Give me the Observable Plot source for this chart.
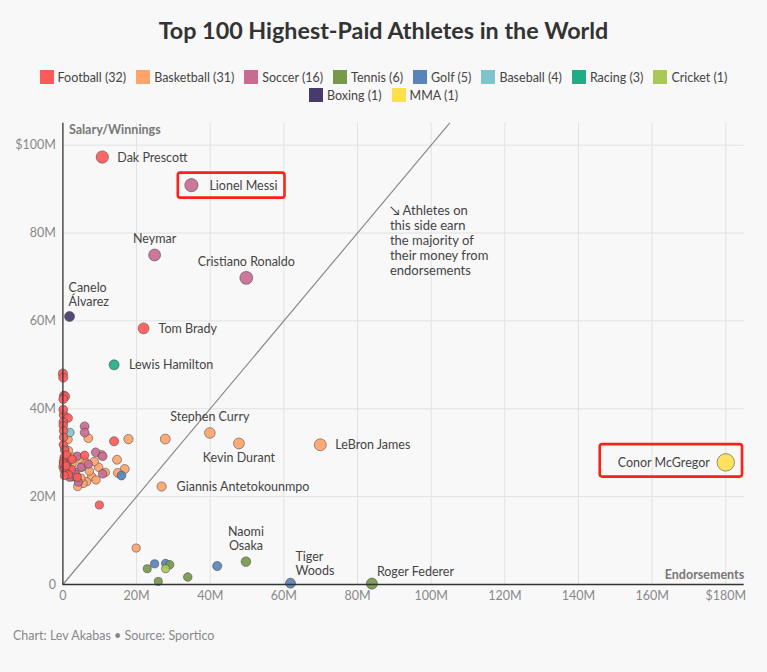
<!DOCTYPE html>
<html>
<head>
<meta charset="utf-8">
<script src="https://cdn.jsdelivr.net/npm/d3@7"></script>
<script src="https://cdn.jsdelivr.net/npm/@observablehq/plot@0.6"></script>
<style>
  html, body { margin: 0; padding: 0; background: #f8f8f8; }
  body { width: 767px; height: 672px; position: relative; font-family: Lato, "Open Sans", sans-serif; overflow: hidden; }
  #title { position: absolute; top: 16px; left: 0; width: 767px; text-align: center; font-size: 23.3px; font-weight: 700; line-height: 28px; color: #333; }
  #legend { position: absolute; top: 68px; left: 0; width: 767px; }
  .lrow { display: flex; justify-content: center; height: 18px; align-items: center; }
  .litem { display: flex; align-items: center; margin: 0 5px; font-size: 12.5px; color: #444; white-space: nowrap; }
  .sw { width: 14px; height: 14px; margin-right: 4px; }
  #chart { position: absolute; top: 108px; left: 0; }
  #caption { position: absolute; top: 627px; left: 13px; font-size: 12.5px; line-height: 18px; color: #888; }
</style>
</head>
<body>
<div id="title">Top 100 Highest-Paid Athletes in the World</div>
<div id="legend"></div>
<div id="chart"></div>
<div id="caption">Chart: Lev Akabas • Source: Sportico</div>
<script>
// ---- categories and colours ----
const sports = ["Football","Basketball","Soccer","Tennis","Golf","Baseball","Racing","Cricket","Boxing","MMA"];
const sportColors = ["#ff5a5a","#ffa46b","#c86b93","#76994a","#5884ba","#7fc4cb","#22ac86","#a9c858","#463b6c","#fee04f"];

// ---- values: [endorsements $M, salary/winnings $M, label] ----
const football = [
  [10.7,97.3,"Dak Prescott"],[21.9,58.3,"Tom Brady"],[13.9,32.6],[9.9,18.1],[5.9,29.4],[3.9,24.4],[2.3,26.2],
  [0.0,48.0],[0.1,47.1],[0.3,43.0],[0.6,42.8],[0.1,42.2],[0.2,38.6],[1.4,37.9],[0.1,37.0],[0.1,36.2],[0.2,35.0],
  [0.1,31.8],[0.3,28.9],[0.1,28.0],[0.0,26.8],[0.3,26.1],[0.2,33.5],[0.5,30.5],[1.0,29.5],[0.2,27.5],[0.7,25.5],
  [1.5,25.0],[0.4,24.8],[2.5,28.5],[0.1,39.8],[0.8,27.0]
];
const basketball = [
  [39.9,34.5,"Stephen Curry"],[27.8,33.1],[47.8,32.1,"Kevin Durant"],[69.9,31.8,"LeBron James"],
  [26.8,22.3,"Giannis Antetokounmpo"],[19.9,8.3],[1.4,33.0],[6.9,33.3],[17.8,33.1],[14.7,28.4],[16.8,26.3],
  [14.9,25.4],[9.7,26.7],[8.5,28.0],[7.8,24.6],[6.5,23.4],[5.5,23.0],[4.0,22.3],[2.5,27.4],[5.2,26.7],[4.9,24.2],
  [3.5,25.5],[1.5,30.5],[3.0,29.0],[6.0,28.0],[10.5,29.5],[11.5,25.5],[2.2,24.5],[4.5,28.5],[9.0,23.8],[7.2,25.8]
];
const soccer = [
  [34.9,90.9,"Lionel Messi"],[24.9,75.0,"Neymar"],[49.8,69.8,"Cristiano Ronaldo"],[5.9,36.0],[5.9,34.6],
  [3.9,29.2],[8.9,30.1],[10.8,29.2],[6.9,27.4],[4.9,26.7],[10.8,25.2],[2.4,25.8],[1.8,24.4],[4.2,23.3],[3.3,25.1],[1.0,28.0]
];
const tennis = [[49.7,5.2,"Naomi\nOsaka"],[83.9,0.2,"Roger Federer"],[22.9,3.6],[29.0,4.5],[25.9,0.7],[33.9,1.7]];
const golf = [[61.8,0.3,"Tiger\nWoods"],[24.9,4.7],[27.9,4.8],[41.9,4.2],[15.9,24.8]];
const baseball = [[1.9,34.6],[0.5,31.0],[1.0,29.0],[0.8,26.0]];
const racing = [[13.9,50.0,"Lewis Hamilton"],[1.2,27.0],[3.0,24.5]];
const cricket = [[27.9,3.6]];
const boxing = [[1.8,61.0,"Canelo\nÁlvarez"]];
const mma = [[180,27.8,"Conor McGregor"]];

// ---- tick labels ----
const xTicks = [0,20,40,60,80,100,120,140,160,180];
const xTickLabels = ["0","20M","40M","60M","80M","100M","120M","140M","160M","$180M"];
const yTicks = [0,20,40,60,80,100];
const yTickLabels = ["0","20M","40M","60M","80M","$100M"];

// ---- label placement and annotation ----
const labelPlacement = [
  ["Dak Prescott","right"],["Lionel Messi","rightWide"],["Neymar","above"],["Cristiano Ronaldo","above"],
  ["Canelo\nÁlvarez","aboveStart"],["Tom Brady","right"],["Lewis Hamilton","right"],["Stephen Curry","above"],
  ["Kevin Durant","below"],["LeBron James","right"],["Giannis Antetokounmpo","right"],["Naomi\nOsaka","above"],
  ["Tiger\nWoods","aboveRight"],["Roger Federer","aboveRight"],["Conor McGregor","left"]
];
const highlighted = ["Lionel Messi","Conor McGregor"];
const diagonal = [0, 105];
const annotations = [{x: 88.8, y: 86.6, text: "↘ Athletes on\nthis side earn\nthe majority of\ntheir money from\nendorsements"}];

// ---- build table ----
const seriesBySport = [football, basketball, soccer, tennis, golf, baseball, racing, cricket, boxing, mma];
const rows = sports.flatMap((s, i) => seriesBySport[i].map(([e, sal, name]) => ({sport: s, endorsements: e, salary: sal, total: e + sal, name})));
const drawOrder = ["Basketball","Baseball","Racing","Soccer","Football","Golf","Tennis","Cricket","Boxing","MMA"];
const ordered = drawOrder.flatMap(s => rows.filter(d => d.sport === s));

// legend
const legend = document.getElementById("legend");
[sports.slice(0, 8), sports.slice(8)].forEach(group => {
  const row = document.createElement("div");
  row.className = "lrow";
  group.forEach(s => {
    const i = sports.indexOf(s);
    const item = document.createElement("div");
    item.className = "litem";
    item.innerHTML = `<div class="sw" style="background:${sportColors[i]}"></div>${s} (${seriesBySport[i].length})`;
    row.append(item);
  });
  legend.append(row);
});

const placeCfg = {
  right: {textAnchor: "start", dx: 15},
  rightWide: {textAnchor: "start", dx: 18},
  left: {textAnchor: "end", dx: -16},
  above: {textAnchor: "middle", lineAnchor: "bottom", dy: -12},
  below: {textAnchor: "middle", lineAnchor: "top", dy: 9},
  aboveStart: {textAnchor: "start", lineAnchor: "bottom", dx: -1, dy: -11},
  aboveRight: {textAnchor: "start", lineAnchor: "bottom", dx: 5, dy: -8}
};
const placeOf = new Map(labelPlacement);
const labelMarks = Object.keys(placeCfg).map(p =>
  Plot.text(rows.filter(d => d.name && placeOf.get(d.name) === p), {
    x: "endorsements", y: "salary", text: "name", fill: "#444", fontSize: 12.5, lineHeight: 1.12, ...placeCfg[p]
  })
);

const chart = Plot.plot({
  width: 767,
  height: 510,
  marginTop: 14.7,
  marginBottom: 34,
  marginLeft: 62.4,
  marginRight: 23.3,
  style: {fontFamily: "Lato, 'Open Sans', sans-serif", fontSize: "12.5px", background: "transparent", overflow: "visible"},
  x: {domain: [0, 185]},
  y: {domain: [0, 105]},
  r: {type: "linear", domain: [25, 210], range: [4, 8.8], clamp: true},
  color: {domain: sports, range: sportColors},
  marks: [
    Plot.gridX(xTicks.filter(d => d > 0), {stroke: "#e2e2e2", strokeOpacity: 1}),
    Plot.gridY(yTicks.filter(d => d > 0), {stroke: "#e2e2e2", strokeOpacity: 1}),
    Plot.axisX(xTicks, {tickSize: 0, tickPadding: 7, fill: "#888", fontSize: 12.5, tickFormat: d => xTickLabels[xTicks.indexOf(d)]}),
    Plot.axisY(yTicks, {tickSize: 0, tickPadding: 7, fill: "#888", fontSize: 12.5, tickFormat: d => yTickLabels[yTicks.indexOf(d)]}),
    Plot.line(diagonal, {x: d => d, y: d => d, stroke: "#8a8a8a", strokeWidth: 1.2}),
    Plot.dot(ordered, {x: "endorsements", y: "salary", r: "total", fill: "sport", fillOpacity: 0.92, stroke: "#444", strokeOpacity: 0.55, strokeWidth: 1, sort: null}),
    Plot.ruleX([0], {stroke: "#333", strokeWidth: 1.3}),
    Plot.ruleY([0], {stroke: "#333", strokeWidth: 1.3}),
    ...labelMarks,
    Plot.text(annotations, {x: "x", y: "y", text: "text", textAnchor: "start", lineAnchor: "top", fill: "#444", fontSize: 13, lineHeight: 1.16}),
    Plot.text(["Salary/Winnings"], {frameAnchor: "top-left", textAnchor: "start", lineAnchor: "top", dx: 6, dy: 2, fill: "#777", fontWeight: "bold", fontSize: 12.5}),
    Plot.text(["Endorsements"], {frameAnchor: "bottom-right", textAnchor: "end", lineAnchor: "bottom", dy: -6, fill: "#777", fontWeight: "bold", fontSize: 12.5})
  ]
});
document.getElementById("chart").append(chart);

// red highlight boxes around the labelled dots
const boxPad = {"Lionel Messi": [6.5, 7, 5, 5], "Conor McGregor": [18, 8, 9, 6]};
const sx = chart.scale("x"), sy = chart.scale("y"), sr = chart.scale("r");
const svgRect = chart.getBoundingClientRect();
highlighted.forEach(name => {
  const d = rows.find(r => r.name === name);
  const t = Array.from(chart.querySelectorAll("text")).find(el => el.textContent === name);
  if (!d || !t) return;
  const tr = t.getBoundingClientRect();
  const cx = sx.apply(d.endorsements), cy = sy.apply(d.salary), r = sr.apply(d.total);
  const x0 = Math.min(tr.left - svgRect.left, cx - r), x1 = Math.max(tr.right - svgRect.left, cx + r);
  const y0 = Math.min(tr.top - svgRect.top, cy - r), y1 = Math.max(tr.bottom - svgRect.top, cy + r);
  const [pl, pr, pt, pb] = boxPad[name];
  d3.select(chart).append("rect")
    .attr("x", x0 - pl).attr("y", y0 - pt)
    .attr("width", x1 - x0 + pl + pr).attr("height", y1 - y0 + pt + pb)
    .attr("rx", 2.5).attr("fill", "none").attr("stroke", "#ff2016").attr("stroke-width", 2.6);
});
</script>
</body>
</html>
